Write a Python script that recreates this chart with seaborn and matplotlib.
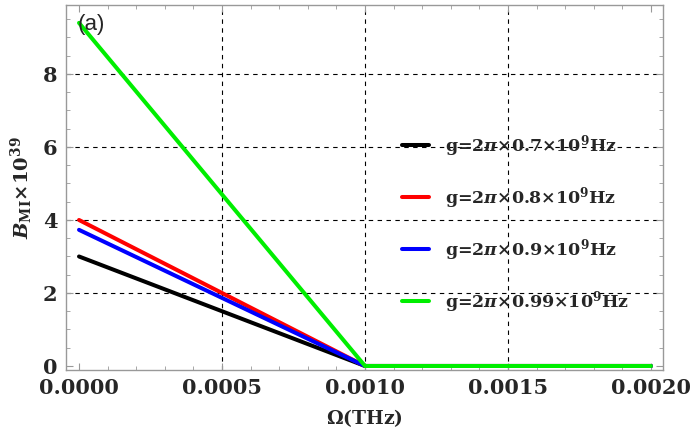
import matplotlib
matplotlib.use("Agg")
import matplotlib.pyplot as plt
import pandas as pd
import seaborn as sns
from matplotlib.ticker import MultipleLocator

# data: B_MI drops linearly to 0 at 0.001 THz, then stays 0
omega = [0.0, 0.001, 0.002]
b_07 = [3.0, 0.0, 0.0]
b_08 = [4.0, 0.0, 0.0]
b_09 = [3.73, 0.0, 0.0]
b_099 = [9.4, 0.0, 0.0]
labels = [r"g=2$\pi$×0.7×10$^{9}$Hz", r"g=2$\pi$×0.8×10$^{9}$Hz",
          r"g=2$\pi$×0.9×10$^{9}$Hz", r"g=2$\pi$×0.99×10$^{9}$Hz"]
colors = ["#000000", "#ff0000", "#0000ff", "#00ee00"]
xticks = [0, 0.0005, 0.001, 0.0015, 0.002]
xticklabels = ["0.0000", "0.0005", "0.0010", "0.0015", "0.0020"]
yticks = [0, 2, 4, 6, 8]

rows = []
for lab, vals in zip(labels, [b_07, b_08, b_09, b_099]):
    for x, y in zip(omega, vals):
        rows.append({"omega": x, "B": y, "g": lab})
df = pd.DataFrame(rows)

sns.set_style("ticks")
plt.rcParams["font.family"] = ["DejaVu Serif"]
plt.rcParams["font.weight"] = "bold"
plt.rcParams["mathtext.fontset"] = "custom"
plt.rcParams["mathtext.rm"] = "DejaVu Serif:bold"
plt.rcParams["mathtext.bf"] = "DejaVu Serif:bold"
plt.rcParams["mathtext.it"] = "DejaVu Serif:italic:bold"

fig = plt.figure(figsize=(6.9, 4.47), dpi=100)
ax = fig.add_axes([66/690, 1-370/447, (663-66)/690, (370-5)/447])

# dashed grid only on the inner major ticks, as in the reference
for gx in xticks[1:-1]:
    ax.axvline(gx, color="black", linestyle=(0, (4, 4)), linewidth=0.8, zorder=0)
for gy in yticks[1:]:
    ax.axhline(gy, color="black", linestyle=(0, (4, 4)), linewidth=0.8, zorder=0)

sns.lineplot(data=df, x="omega", y="B", hue="g", hue_order=labels,
             palette=colors, linewidth=2.9, ax=ax, legend=True)

ax.set_xlim(-0.0000455, 0.002042)
ax.set_ylim(-0.11, 9.89)
ax.set_xticks(xticks)
ax.set_xticklabels(xticklabels, fontweight="bold")
ax.set_yticks(yticks)
ax.set_yticklabels([str(v) for v in yticks], fontweight="bold")
ax.xaxis.set_minor_locator(MultipleLocator(0.0001))
ax.yaxis.set_minor_locator(MultipleLocator(0.5))
ax.tick_params(which="both", direction="in", top=True, right=True, color="#999999")
ax.tick_params(which="major", length=5, labelsize=15, pad=6)
ax.tick_params(which="minor", length=3)
for sp in ax.spines.values():
    sp.set_color("#999999")
    sp.set_linewidth(1)

ax.set_xlabel(r"$\mathbf{\Omega}$(THz)", fontsize=13.5, fontweight="bold", labelpad=6)
ax.set_ylabel(r"$B_{\mathrm{MI}}$×10$^{39}$", fontsize=14, fontweight="bold", labelpad=6)

ax.text(0.02, 0.975, "(a)", transform=ax.transAxes, family="Liberation Sans",
        fontweight="normal", fontsize=16, va="top", ha="left")

leg = ax.legend(loc="center left", bbox_to_anchor=(402/690, 1-224/447),
                bbox_transform=fig.transFigure, frameon=False,
                prop={"size": 12.5, "weight": "bold"},
                handlelength=1.55, handletextpad=0.9, labelspacing=1.5,
                borderpad=0, borderaxespad=0)
for line in leg.get_lines():
    line.set_linewidth(2.9)

fig.savefig("out.png", dpi=100)
